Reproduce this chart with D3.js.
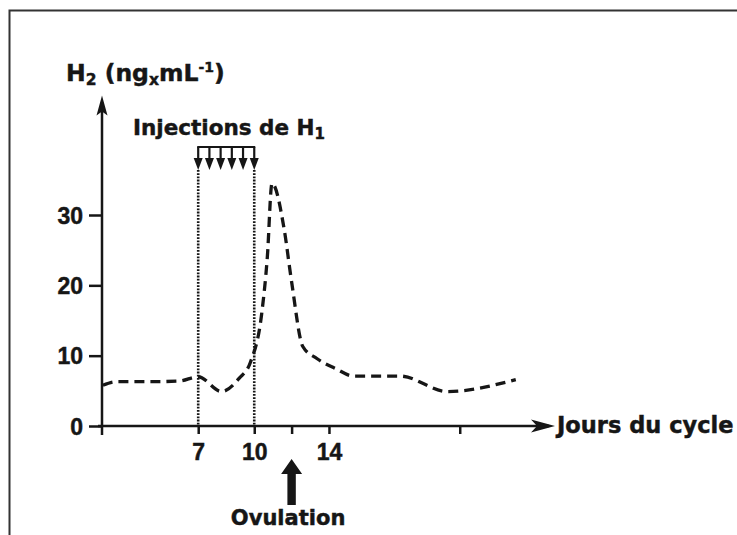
<!DOCTYPE html>
<html>
  <head>
    <meta charset="utf-8">
    <title>H2 - Injections de H1</title>
    <style>
body {
  margin: 0;
  background: #fff;
}
svg text {
  fill: #161616;
  stroke: #161616;
  stroke-width: 0.45px;
}
    </style>
  </head>
  <body>
    <div id="chart"></div>
    <script src="https://cdn.jsdelivr.net/npm/d3@7"></script>
    <script>

    // days of the cycle and H2 level (ng/mL)
    var days   = [1.9, 2.6, 4.5, 6.0, 7.0, 8.25, 9.2, 9.8, 10.4, 10.7, 10.95, 11.6, 12.0, 12.6, 13.35, 14.4, 15.3, 17.8, 20.35, 24.0];
    var levels = [5.8, 6.3, 6.3, 6.4, 7.0, 4.9,  6.8, 9.1, 16.0, 24.0, 34.5,  28.0, 20.5, 11.3, 9.6,   8.1,  7.1,  7.1,  4.9,   6.6];

    var injectionDays = [7, 7.6, 8.2, 8.8, 9.4, 10];
    var ovulationDay = 12;

    var xTicks = [7, 10, 12, 14, 21];
    var xLabels = [7, 10, 14];
    var yTicks = [0, 10, 20, 30];

    var numFont = '"Liberation Sans", Arial, sans-serif',
        wordFont = '"DejaVu Sans", sans-serif',
        ink = '#161616';

    var width = 737, height = 535;

    var x = d3.scaleLinear().domain([1.85, 26.1]).range([102, 555]);
    var y = d3.scaleLinear().domain([0, 30]).range([426, 215]);
    var yMax = 47;

    var svg = d3.select('#chart').append('svg')
        .attr('width', width)
        .attr('height', height);

    // scanned page frame
    svg.append('rect')
        .attr('x', 9.5)
        .attr('y', 10.5)
        .attr('width', 800)
        .attr('height', 600)
        .style('fill', 'none')
        .style('stroke', '#333')
        .style('stroke-width', 2);

    var x0 = x.range()[0], x1 = x.range()[1],
        y0 = y(0), yTop = y(yMax);

    // x axis ticks + labels
    var xAxis = d3.axisBottom(x)
        .tickValues(xTicks)
        .tickSize(8)
        .tickSizeOuter(0)
        .tickFormat(function(d) { return xLabels.indexOf(d) >= 0 ? d : ''; });

    var gx = svg.append('g')
        .attr('transform', 'translate(0,' + y0 + ')')
        .call(xAxis);
    gx.select('.domain').remove();
    gx.selectAll('line').style('stroke', ink).style('stroke-width', 2.5);
    gx.selectAll('text')
        .attr('y', 34)
        .attr('dy', 0)
        .style('font-family', numFont)
        .style('font-weight', 'bold')
        .style('font-size', '23px');

    // y axis ticks + labels
    var yAxis = d3.axisLeft(y)
        .tickValues(yTicks)
        .tickSize(13)
        .tickPadding(6)
        .tickSizeOuter(0);

    var gy = svg.append('g')
        .attr('transform', 'translate(' + x0 + ',0)')
        .call(yAxis);
    gy.select('.domain').remove();
    gy.selectAll('line').style('stroke', ink).style('stroke-width', 2.5);
    gy.selectAll('text')
        .attr('dy', '0.36em')
        .style('font-family', numFont)
        .style('font-weight', 'bold')
        .style('font-size', '23px');

    // axis lines
    svg.append('line')
        .attr('x1', x0 - 4).attr('x2', x1 - 6)
        .attr('y1', y0).attr('y2', y0)
        .style('stroke', ink).style('stroke-width', 2.5);
    svg.append('line')
        .attr('x1', x0).attr('x2', x0)
        .attr('y1', y0 + 9).attr('y2', yTop + 10)
        .style('stroke', ink).style('stroke-width', 2.5);

    // arrow heads
    svg.append('path')
        .attr('d', 'M' + x1 + ',' + y0 + 'L' + (x1 - 24) + ',' + (y0 - 6.5) +
                   'L' + (x1 - 18) + ',' + y0 + 'L' + (x1 - 24) + ',' + (y0 + 6.5) + 'Z')
        .style('fill', ink);
    svg.append('path')
        .attr('d', 'M' + x0 + ',' + yTop + 'L' + (x0 - 5.5) + ',' + (yTop + 20) +
                   'L' + x0 + ',' + (yTop + 16) + 'L' + (x0 + 5.5) + ',' + (yTop + 20) + 'Z')
        .style('fill', ink);

    // injections of H1
    var combTop = 147, headTop = 158, headTip = 170;

    svg.append('line')
        .attr('x1', x(injectionDays[0]) - 1).attr('x2', x(injectionDays[injectionDays.length - 1]) + 1)
        .attr('y1', combTop).attr('y2', combTop)
        .style('stroke', ink).style('stroke-width', 2.2);

    var inj = svg.selectAll('.inj')
        .data(injectionDays)
        .enter().append('g')
        .attr('class', 'inj')
        .attr('transform', function(d) { return 'translate(' + x(d) + ',0)'; });
    inj.append('line')
        .attr('y1', combTop).attr('y2', headTop + 2)
        .style('stroke', ink).style('stroke-width', 2.2);
    inj.append('path')
        .attr('d', 'M-4.5,' + headTop + 'L4.5,' + headTop + 'L0,' + headTip + 'Z')
        .style('fill', ink);

    // dotted guides at first and last injection
    svg.selectAll('.guide')
        .data([injectionDays[0], injectionDays[injectionDays.length - 1]])
        .enter().append('line')
        .attr('class', 'guide')
        .attr('x1', function(d) { return x(d); })
        .attr('x2', function(d) { return x(d); })
        .attr('y1', headTip)
        .attr('y2', y0)
        .style('stroke', ink)
        .style('stroke-width', 2.6)
        .style('stroke-dasharray', '1.8,1.4');

    // H2 curve
    var pts = days.map(function(d, i) { return [d, levels[i]]; });
    var line = d3.line()
        .x(function(d) { return x(d[0]); })
        .y(function(d) { return y(d[1]); })
        .curve(d3.curveMonotoneX);

    svg.append('path')
        .datum(pts)
        .attr('d', line)
        .style('fill', 'none')
        .style('stroke', ink)
        .style('stroke-width', 3.3)
        .style('stroke-dasharray', '10,6');

    // ovulation arrow
    var ox = x(ovulationDay), oTip = 459, oHead = 474, oEnd = 505;
    svg.append('path')
        .attr('d', 'M' + ox + ',' + oTip + 'L' + (ox - 10.5) + ',' + oHead + 'L' + (ox - 4.2) + ',' + oHead +
                   'L' + (ox - 4.2) + ',' + oEnd + 'L' + (ox + 4.2) + ',' + oEnd + 'L' + (ox + 4.2) + ',' + oHead +
                   'L' + (ox + 10.5) + ',' + oHead + 'Z')
        .style('fill', ink);

    // texts
    function word(t, px, py, size, anchor) {
      return svg.append('text')
          .attr('x', px)
          .attr('y', py)
          .attr('text-anchor', anchor || 'start')
          .style('font-family', wordFont)
          .style('font-weight', 'bold')
          .style('font-size', size + 'px')
          .text(t);
    }

    var yl = svg.append('text')
        .attr('x', 66)
        .attr('y', 81)
        .style('font-family', wordFont)
        .style('font-weight', 'bold')
        .style('font-size', '23.5px');
    yl.append('tspan').text('H');
    yl.append('tspan').attr('dy', 4).style('font-size', '15.5px').text('2');
    yl.append('tspan').attr('dy', -4).text(' (ng');
    yl.append('tspan').attr('dy', 4).style('font-size', '15.5px').text('x');
    yl.append('tspan').attr('dy', -4).text('mL');
    yl.append('tspan').attr('dy', -9).style('font-size', '14px').text('-1');
    yl.append('tspan').attr('dy', 9).text(')');

    var il = word('Injections de H', 133, 135, 21.5);
    il.append('tspan').attr('dy', 4).style('font-size', '15px').text('1');

    word('Jours du cycle', 557, 433, 22.5);
    word('Ovulation', ox - 3.5, 525, 21, 'middle');

    </script>
  </body>
</html>
